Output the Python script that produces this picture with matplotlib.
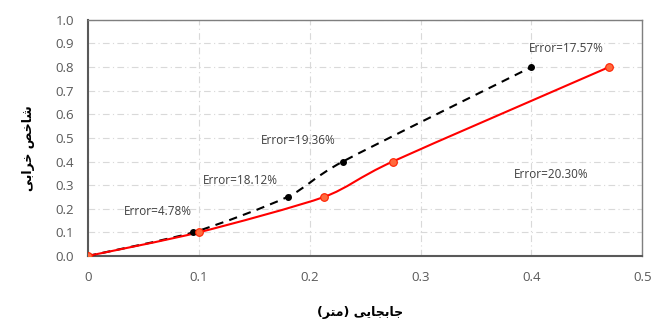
import matplotlib
matplotlib.use('Agg')
import matplotlib.pyplot as plt
from matplotlib.path import Path
from matplotlib.patches import PathPatch
import numpy as np

# داده‌ها
x_test = [0, 0.095, 0.18, 0.23, 0.40]
y_test = [0, 0.10, 0.25, 0.40, 0.80]
x_model = [0, 0.10, 0.213, 0.275, 0.47]
y_model = [0, 0.10, 0.25, 0.40, 0.80]
err_labels = ['Error=4.78%', 'Error=18.12%', 'Error=19.36%', 'Error=17.57%', 'Error=20.30%']
err_pos = [(0.032, 0.19), (0.104, 0.32), (0.156, 0.487), (0.398, 0.877), (0.384, 0.343)]
x_ticks = [0, 0.1, 0.2, 0.3, 0.4, 0.5]
y_ticks = [0.0, 0.1, 0.2, 0.3, 0.4, 0.5, 0.6, 0.7, 0.8, 0.9, 1.0]

# عنوان محورها (حروف فارسی به شکل چسبیده و به ترتیب نمایشی)
ylab = '\ufbfd\ufe91\ufe8d\ufeae\ufea7 \ufeba\ufea7\ufe8e\ufeb7'
xlab = '(\ufeae\ufe98\ufee3) \ufbfd\ufbfe\ufe8e\ufea0\ufe91\ufe8e\ufe9f'

plt.rcParams['font.family'] = ['Open Sans', 'DejaVu Sans']


def smooth_path(xs, ys, k=8.0):
    # منحنی نرم (Catmull-Rom) از نقاط داده
    p = np.column_stack([xs, ys]).astype(float)
    verts = [p[0]]
    codes = [Path.MOVETO]
    n = len(p)
    for i in range(n - 1):
        p0 = p[i - 1] if i > 0 else p[i]
        p3 = p[i + 2] if i + 2 < n else p[i + 1]
        c1 = p[i] + (p[i + 1] - p0) / k
        c2 = p[i + 1] - (p3 - p[i]) / k
        verts += [c1, c2, p[i + 1]]
        codes += [Path.CURVE4] * 3
    return Path(verts, codes)


fig = plt.figure(figsize=(6.52, 3.26), dpi=100)
ax = fig.add_axes([0.135, 0.215, 0.85, 0.724])

ax.add_patch(PathPatch(smooth_path(x_test, y_test), fill=False, edgecolor='black',
                       lw=1.5, linestyle=(0, (4, 3)), zorder=3))
ax.plot(x_test, y_test, 'o', color='black', ms=4, zorder=4)

ax.add_patch(PathPatch(smooth_path(x_model, y_model), fill=False, edgecolor='#ff0000',
                       lw=1.5, zorder=3))
ax.plot(x_model, y_model, 'o', markerfacecolor='#ff6a3d', markeredgecolor='#ff2000',
        ms=5.5, mew=0.8, zorder=4)

for t, (px, py) in zip(err_labels, err_pos):
    ax.text(px, py, t, fontsize=8.5, color='#404040', va='center', ha='left')

ax.set_xlim(0, 0.5)
ax.set_ylim(0, 1.0)
ax.set_xticks(x_ticks)
ax.set_xticklabels(['0', '0.1', '0.2', '0.3', '0.4', '0.5'])
ax.set_yticks(y_ticks)
ax.set_yticklabels(['%.1f' % v for v in y_ticks])
ax.tick_params(length=0, labelsize=9.5, labelcolor='#595959')
ax.tick_params(axis='x', pad=11)
ax.tick_params(axis='y', pad=10)
ax.grid(color='#d9d9d9', linestyle=(0, (6, 3, 1, 3)), linewidth=0.8)
ax.set_axisbelow(True)
for s in ax.spines.values():
    s.set_color('#7f7f7f')
    s.set_linewidth(1.0)
ax.spines['left'].set_color('#595959')
ax.spines['bottom'].set_color('#595959')
ax.spines['left'].set_linewidth(1.5)
ax.spines['bottom'].set_linewidth(1.5)

fig.text(0.043, 0.545, ylab, rotation=90, ha='center', va='center', fontsize=9,
         fontweight='bold', family='DejaVu Sans')
fig.text(0.552, 0.04, xlab, ha='center', va='center', fontsize=9,
         fontweight='bold', family='DejaVu Sans')

fig.savefig('out.png', dpi=100)
